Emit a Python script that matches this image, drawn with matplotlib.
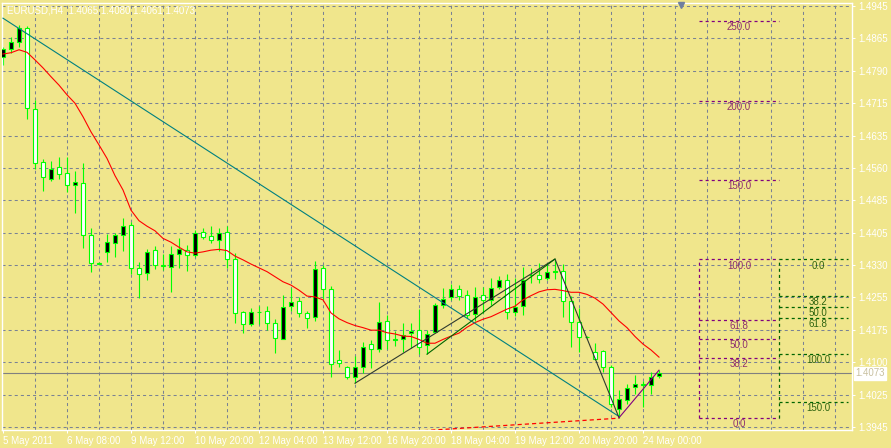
import matplotlib.pyplot as plt
import numpy as np

plt.rcParams['font.family'] = ['Liberation Sans', 'DejaVu Sans']
plt.rcParams['lines.scale_dashes'] = False

# EURUSD H4 candles, 5 May 2011 00:00 .. 24 May 2011 08:00
opens = [1.4824, 1.4842, 1.4859, 1.4892, 1.4700, 1.4574, 1.4533, 1.4562, 1.4548, 1.4521,
         1.4524, 1.4400, 1.4334, 1.4360, 1.4383, 1.4400, 1.4424, 1.4323, 1.4310, 1.4365,
         1.4329, 1.4324, 1.4355, 1.4365, 1.4354, 1.4408, 1.4399, 1.4388, 1.4408, 1.4343,
         1.4217, 1.4189, 1.4217, 1.4220, 1.4191, 1.4155, 1.4232, 1.4244, 1.4215, 1.4206,
         1.4322, 1.4272, 1.4103, 1.4087, 1.4063, 1.4087, 1.4141, 1.4130, 1.4196, 1.4152,
         1.4155, 1.4168, 1.4175, 1.4139, 1.4170, 1.4234, 1.4254, 1.4272, 1.4258, 1.4213,
         1.4258, 1.4246, 1.4278, 1.4294, 1.4217, 1.4232, 1.4306, 1.4306, 1.4298, 1.4312,
         1.4316, 1.4245, 1.4194, 1.4158, 1.4122, 1.4125, 1.4087, 1.3988, 1.4009, 1.4040,
         1.4046, 1.4044, 1.4065]
highs = [1.4848, 1.4871, 1.4900, 1.4897, 1.4722, 1.4582, 1.4578, 1.4586, 1.4586, 1.4553,
         1.4573, 1.4417, 1.4337, 1.4403, 1.4406, 1.4441, 1.4431, 1.4336, 1.4367, 1.4374,
         1.4355, 1.4375, 1.4393, 1.4377, 1.4412, 1.4418, 1.4422, 1.4418, 1.4423, 1.4359,
         1.4221, 1.4227, 1.4233, 1.4232, 1.4202, 1.4258, 1.4274, 1.4254, 1.4221, 1.4339,
         1.4329, 1.4280, 1.4128, 1.4090, 1.4114, 1.4146, 1.4152, 1.4243, 1.4210, 1.4173,
         1.4193, 1.4191, 1.4225, 1.4175, 1.4240, 1.4276, 1.4285, 1.4283, 1.4270, 1.4278,
         1.4277, 1.4299, 1.4304, 1.4308, 1.4298, 1.4324, 1.4322, 1.4335, 1.4330, 1.4344,
         1.4332, 1.4256, 1.4227, 1.4160, 1.4144, 1.4129, 1.4092, 1.4033, 1.4047, 1.4069,
         1.4055, 1.4076, 1.4080]
lows = [1.4805, 1.4833, 1.4848, 1.4676, 1.4559, 1.4506, 1.4530, 1.4533, 1.4504, 1.4453,
        1.4369, 1.4312, 1.4331, 1.4338, 1.4348, 1.4364, 1.4308, 1.4251, 1.4293, 1.4321,
        1.4318, 1.4266, 1.4322, 1.4316, 1.4348, 1.4391, 1.4381, 1.4363, 1.4322, 1.4193,
        1.4169, 1.4185, 1.4190, 1.4175, 1.4120, 1.4153, 1.4221, 1.4207, 1.4181, 1.4197,
        1.4248, 1.4063, 1.4088, 1.4060, 1.4049, 1.4074, 1.4086, 1.4124, 1.4131, 1.4137,
        1.4124, 1.4132, 1.4118, 1.4118, 1.4168, 1.4228, 1.4247, 1.4247, 1.4203, 1.4197,
        1.4215, 1.4235, 1.4272, 1.4202, 1.4209, 1.4211, 1.4288, 1.4288, 1.4294, 1.4296,
        1.4207, 1.4136, 1.4124, 1.4156, 1.4104, 1.4075, 1.3993, 1.3967, 1.3999, 1.4023,
        1.3993, 1.4023, 1.4061]
closes = [1.4843, 1.4859, 1.4892, 1.4702, 1.4571, 1.4538, 1.4559, 1.4545, 1.4519, 1.4526,
          1.4400, 1.4334, 1.4333, 1.4385, 1.4400, 1.4422, 1.4322, 1.4308, 1.4361, 1.4329,
          1.4328, 1.4355, 1.4367, 1.4353, 1.4406, 1.4396, 1.4388, 1.4406, 1.4343, 1.4215,
          1.4189, 1.4217, 1.4218, 1.4192, 1.4156, 1.4229, 1.4241, 1.4215, 1.4203, 1.4320,
          1.4272, 1.4094, 1.4096, 1.4063, 1.4087, 1.4136, 1.4130, 1.4194, 1.4152, 1.4153,
          1.4164, 1.4173, 1.4136, 1.4167, 1.4234, 1.4250, 1.4272, 1.4255, 1.4211, 1.4254,
          1.4247, 1.4274, 1.4293, 1.4217, 1.4229, 1.4293, 1.4307, 1.4296, 1.4312, 1.4316,
          1.4245, 1.4194, 1.4158, 1.4158, 1.4107, 1.4087, 1.4000, 1.4011, 1.4037, 1.4046,
          1.4045, 1.4063, 1.4073]
# moving average (red)
ma = [1.4831, 1.4834, 1.4841, 1.4835, 1.4817, 1.4798, 1.4777, 1.4757, 1.4734, 1.4714,
      1.4682, 1.4646, 1.4615, 1.4583, 1.4542, 1.4508, 1.4460, 1.4435, 1.4422, 1.4411,
      1.4393, 1.4384, 1.4372, 1.4361, 1.4358, 1.4361, 1.4365, 1.4367, 1.4364, 1.4351,
      1.4342, 1.4332, 1.4323, 1.4314, 1.4302, 1.4290, 1.4282, 1.4270, 1.4256, 1.4254,
      1.4247, 1.4216, 1.4202, 1.4193, 1.4186, 1.4181, 1.4175, 1.4175, 1.4169, 1.4166,
      1.4161, 1.4160, 1.4153, 1.4144, 1.4144, 1.4153, 1.4161, 1.4168, 1.4182, 1.4193,
      1.4201, 1.4207, 1.4216, 1.4225, 1.4232, 1.4247, 1.4257, 1.4266, 1.4271, 1.4272,
      1.4269, 1.4265, 1.4265, 1.4260, 1.4251, 1.4237, 1.4217, 1.4197, 1.4181, 1.4160,
      1.4142, 1.4128, 1.4111]

xtick_bars = [0, 8, 16, 24, 32, 40, 48, 56, 64, 72, 80]
xtick_labels = ['5 May 2011', '6 May 08:00', '9 May 12:00', '10 May 20:00', '12 May 04:00',
                '13 May 12:00', '16 May 20:00', '18 May 04:00', '19 May 12:00',
                '20 May 20:00', '24 May 00:00']
ytick_labels = ['1.3945', '1.4025', '1.4100', '1.4175', '1.4255', '1.4330', '1.4405',
                '1.4485', '1.4560', '1.4635', '1.4715', '1.4790', '1.4865', '1.4945']

# drawn objects
teal_x, teal_y = [0, 77], [1.4916, 1.3970]
zigzag_x, zigzag_y = [44, 69, 77], [1.4049, 1.4344, 1.3967]
channel_x, channel_y = [53, 69], [1.4118, 1.4344]
last_leg_x, last_leg_y = [77, 82], [1.3967, 1.4080]
red_trend_x, red_trend_y = [40, 77], [1.3921, 1.3966]

fib_lo, fib_hi = 1.3966, 1.4343
fib_levels = [0.0, 38.2, 50.0, 61.8, 100.0, 150.0, 200.0, 250.0]
fib2_top, fib2_bot = 1.4343, 1.4118
fib2_levels = [0.0, 38.2, 50.0, 61.8, 100.0, 150.0]

BG = '#F0E68C'
WHITE = '#FFFFFF'
LIME = '#00FF00'
PURPLE = '#800080'
DGREEN = '#006400'
FS = 7.0

fig = plt.figure(figsize=(8.91, 4.48), dpi=100, facecolor=BG)
ax = fig.add_axes([2 / 891, 18 / 448, 850 / 891, 427 / 448], facecolor=BG)

x = np.arange(len(opens))
o = np.array(opens)
c = np.array(closes)
bull = c > o

# grid
ax.set_yticks(np.linspace(1.3945, 1.4945, 14))
ax.set_yticklabels(ytick_labels)
ax.grid(axis='y', color='#7A8294', lw=0.75, linestyle=(0, (2.2, 2.2)))
ax.vlines(np.arange(4, 106, 4), 0, 1, transform=ax.get_xaxis_transform(),
          colors='#7A8294', lw=0.75, linestyles=[(0, (2.2, 2.2))], zorder=0.5)

# candles
ax.vlines(x, lows, highs, colors=LIME, lw=0.8, zorder=2)
ax.bar(x, np.abs(c - o), bottom=np.minimum(o, c), width=0.6,
       color=np.where(bull, 'black', 'white'), edgecolor=LIME, lw=0.8, zorder=3)

# indicators / objects
ax.plot(x, ma, color='#FF0000', lw=0.8, zorder=4)
ax.plot(teal_x, teal_y, color='#008080', lw=0.8, zorder=4)
ax.plot(zigzag_x, zigzag_y, color='#2F3A2F', lw=0.8, zorder=4)
ax.plot(channel_x, channel_y, color=DGREEN, lw=0.8, zorder=4)
ax.plot(last_leg_x, last_leg_y, color=PURPLE, lw=0.8, zorder=4)
ax.plot(red_trend_x, red_trend_y, color='#FF0000', lw=0.9,
        linestyle=(0, (3, 2.2)), zorder=4)

# current price line
ax.axhline(closes[-1], color='#808080', lw=0.8, zorder=1)

# fibonacci levels
fib_dash = (0, (2.2, 2.2))
for lvl in fib_levels:
    p = fib_lo + lvl / 100 * (fib_hi - fib_lo)
    ax.hlines(p, 87, 97, colors=PURPLE, lw=0.9, linestyles=[fib_dash], zorder=4)
    ax.annotate(f'{lvl:.1f}', (92, p), xytext=(0, -0.8), textcoords='offset points',
                ha='center', va='top', fontsize=FS, color='#8E2E6E', zorder=5)
ax.vlines(87, fib_lo, fib_hi, colors=PURPLE, lw=0.9, linestyles=[fib_dash], zorder=4)
for lvl in fib2_levels:
    p = fib2_top - lvl / 100 * (fib2_top - fib2_bot)
    ax.hlines(p, 97, 105.6, colors=DGREEN, lw=0.9, linestyles=[fib_dash], zorder=4)
    ax.annotate(f'{lvl:.1f}', (101.9, p), xytext=(0, -0.8), textcoords='offset points',
                ha='center', va='top', fontsize=FS, color='#2F6410', zorder=5)
ax.vlines(97, fib_lo, fib2_top, colors=DGREEN, lw=0.9, linestyles=[fib_dash], zorder=4)

# axes setup
ax.set_xlim(-0.125, 106.125)
ax.set_ylim(1.39379, 1.49521)
ax.set_xticks(xtick_bars)
ax.set_xticklabels(xtick_labels, ha='left')
ax.yaxis.tick_right()
ax.tick_params(axis='both', colors=WHITE, labelcolor=WHITE, labelsize=FS,
               length=2.2, width=0.75, pad=2)
for s in ax.spines.values():
    s.set_color(WHITE)
    s.set_linewidth(1)

ax.text(0.006, 0.982, 'EURUSD,H4  1.4065 1.4080 1.4061 1.4073', transform=ax.transAxes,
        color=WHITE, fontsize=FS, va='center', ha='left')

ax.annotate(f'{closes[-1]:.4f}', (1, closes[-1]), xycoords=ax.get_yaxis_transform(),
            xytext=(2.5, 0), textcoords='offset points', ha='left', va='center',
            fontsize=FS, color='#C8C0A0', annotation_clip=False,
            bbox=dict(boxstyle='square,pad=0.15', fc=WHITE, ec=WHITE))

# chart shift marker
ax.plot([84.75], [0.995], marker='v', ms=4, color='#7080A0', mec='#7080A0',
        transform=ax.get_xaxis_transform(), clip_on=False, zorder=6)

fig.savefig('out.png', dpi=100, facecolor=BG)
